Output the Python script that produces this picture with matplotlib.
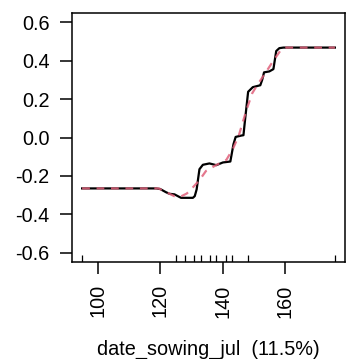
import numpy as np
import matplotlib
matplotlib.use('Agg')
import matplotlib.pyplot as plt
from matplotlib.transforms import blended_transform_factory

plt.rcParams['font.family'] = ['Liberation Sans', 'DejaVu Sans']

# partial dependence (black)
pd_x = [95.0, 118.7, 120.0, 121.9, 123.0, 124.6, 126.7, 130.5, 131.1, 131.7,
        132.6, 133.7, 135.8, 138.0, 140.1, 142.5, 143.5, 144.2, 146.0, 146.7,
        147.2, 148.2, 149.7, 152.1, 152.7, 153.3, 155.0, 156.3, 157.2, 158.2,
        159.5, 176.0]
pd_y = [-0.265, -0.265, -0.268, -0.285, -0.293, -0.296, -0.314, -0.314, -0.305, -0.27,
        -0.165, -0.142, -0.135, -0.144, -0.130, -0.125, -0.035, 0.003, 0.010, 0.012,
        0.090, 0.238, 0.262, 0.272, 0.300, 0.339, 0.344, 0.356, 0.450, 0.465,
        0.468, 0.468]

# smoothed fit (red dashed)
sm_x = [95.0, 119.5, 122.0, 124.5, 126.5, 128.5, 129.4, 132.6, 134.7, 137.9,
        141.2, 143.3, 145.2, 147.6, 149.5, 151.0, 153.5, 156.3, 158.8, 160.4, 176.0]
sm_y = [-0.265, -0.265, -0.285, -0.305, -0.308, -0.292, -0.279, -0.222, -0.174, -0.144,
        -0.117, -0.060, 0.010, 0.140, 0.230, 0.270, 0.330, 0.400, 0.458, 0.468, 0.468]

# deciles of the predictor (rug)
rug = [95, 125, 128, 131, 133, 136, 138, 141, 143, 148, 176]

xticks = [100, 120, 140, 160]
yticks = [-0.6, -0.4, -0.2, 0.0, 0.2, 0.4, 0.6]

W, H = 346, 359
fig = plt.figure(figsize=(W / 100, H / 100), dpi=100)
ax = fig.add_axes([72 / W, 1 - 262 / H, (345 - 72) / W, (262 - 13) / H])

ax.plot(pd_x, pd_y, color='black', lw=1.6, zorder=2)
ax.plot(sm_x, sm_y, color='#E0607A', lw=1.6, alpha=0.85, dashes=(3.5, 3.0), zorder=3)

trans = blended_transform_factory(ax.transData, ax.transAxes)
ax.vlines(rug, 0, 0.027, transform=trans, color='black', lw=0.9)

ax.set_xlim(91.76, 179.24)
ax.set_ylim(-0.648, 0.648)
ax.set_xticks(xticks)
ax.set_xticklabels([str(v) for v in xticks], rotation=90)
ax.set_yticks(yticks)
ax.set_yticklabels([f'{v:.1f}' for v in yticks])
ax.tick_params(axis='both', direction='out', length=8.6, width=1.1, labelsize=14.3,
               pad=7.5, colors='black')
for sp in ax.spines.values():
    sp.set_linewidth(1.1)

ax.set_xlabel('date_sowing_jul  (11.5%)', fontsize=14.3, labelpad=16)

fig.savefig('out.png', dpi=100)
